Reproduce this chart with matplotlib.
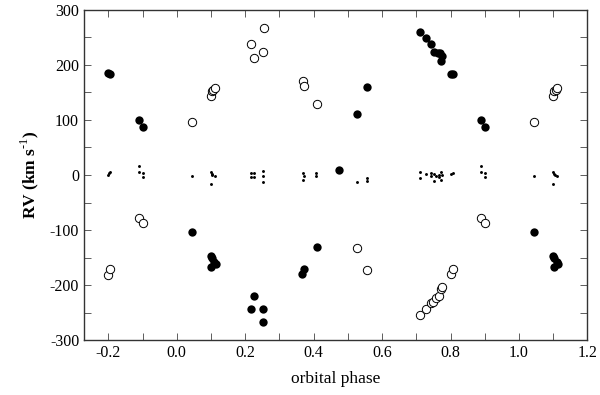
import matplotlib
matplotlib.use('Agg')
import matplotlib.pyplot as plt
from matplotlib.ticker import MultipleLocator

plt.rcParams['font.family'] = ['Liberation Serif', 'DejaVu Serif']
plt.rcParams['axes.unicode_minus'] = False
plt.rcParams['mathtext.fontset'] = 'custom'
plt.rcParams['mathtext.rm'] = 'Liberation Serif'
plt.rcParams['mathtext.bf'] = 'Liberation Serif:bold'

# primary star (filled circles)
p1_phase = [-0.200, -0.195, -0.110, -0.100, 0.044, 0.099, 0.102, 0.109, 0.115, 0.100,
            0.217, 0.226, 0.253, 0.253, 0.367, 0.372, 0.409, 0.475, 0.527, 0.556,
            0.712, 0.728, 0.742, 0.751, 0.762, 0.769, 0.775, 0.773, 0.801, 0.806,
            0.890, 0.901, 1.044, 1.100, 1.103, 1.110, 1.114, 1.102]
p1_rv = [185, 183, 100, 88, -103, -147, -151, -158, -162, -167,
         -244, -220, -244, -268, -180, -170, -131, 9, 110, 159,
         260, 248, 238, 224, 222, 221, 217, 207, 184, 183,
         100, 88, -103, -147, -151, -158, -162, -167]

# secondary star (open circles)
p2_phase = [-0.200, -0.195, -0.109, -0.100, 0.044, 0.100, 0.103, 0.107, 0.112,
            0.217, 0.226, 0.253, 0.255, 0.368, 0.372, 0.409, 0.528, 0.556,
            0.712, 0.728, 0.742, 0.749, 0.759, 0.766, 0.772, 0.775, 0.801, 0.806,
            0.890, 0.901, 1.044, 1.100, 1.103, 1.107, 1.112]
p2_rv = [-181, -170, -78, -87, 97, 144, 152, 155, 158,
         238, 213, 224, 267, 171, 162, 129, -133, -172,
         -255, -243, -233, -231, -224, -219, -208, -204, -180, -170,
         -78, -87, 97, 144, 152, 155, 158]

# small dots around zero
p3_phase = [-0.200, -0.198, -0.194, -0.110, -0.110, -0.100, -0.100, 0.044,
            0.100, 0.102, 0.104, 0.112, 0.100, 0.217, 0.217, 0.226, 0.226,
            0.253, 0.253, 0.253, 0.368, 0.372, 0.368, 0.407, 0.407, 0.527, 0.556, 0.556,
            0.712, 0.712, 0.728, 0.742, 0.743, 0.751, 0.751, 0.759, 0.766, 0.766,
            0.773, 0.773, 0.775, 0.801, 0.806,
            0.890, 0.890, 0.901, 0.901, 1.044, 1.100, 1.102, 1.104, 1.112, 1.100]
p3_rv = [0, 3, 5, 16, 5, 3, -4, -1,
         6, 2, 0, -1, -16, 3, -4, 3, -4,
         8, -2, -13, 4, -1, -9, 3, -2, -13, -6, -11,
         5, -5, 2, 4, -1, 2, -11, -1, 0, -4,
         5, -9, 0, 1, 4,
         16, 5, 3, -4, -1, 6, 2, 0, -1, -16]

fig = plt.figure(figsize=(6.0, 3.95), dpi=100)
ax = fig.add_axes([0.14, 0.139, 0.839, 0.836])

ax.plot(p3_phase, p3_rv, 'o', color='black', markersize=2.1, markeredgewidth=0)
ax.plot(p2_phase, p2_rv, 'o', markerfacecolor='white', markeredgecolor='black',
        markersize=6.0, markeredgewidth=0.7)
ax.plot(p1_phase, p1_rv, 'o', color='black', markersize=6, markeredgewidth=0)

ax.set_xlim(-0.271, 1.2)
ax.set_ylim(-300, 300)
ax.xaxis.set_major_locator(MultipleLocator(0.2))
ax.xaxis.set_minor_locator(MultipleLocator(0.1))
ax.yaxis.set_major_locator(MultipleLocator(100))
ax.yaxis.set_minor_locator(MultipleLocator(50))
ax.tick_params(which='both', direction='in', top=True, right=True, labelsize=11.5,
               width=0.6, colors='#444444', labelcolor='black')
ax.tick_params(which='major', length=5)
ax.tick_params(which='minor', length=5)
ax.xaxis.set_major_formatter(plt.FuncFormatter(lambda v, p: '%.1f' % v))
for s in ax.spines.values():
    s.set_linewidth(1.0)
    s.set_color('#333333')

ax.set_xlabel('orbital phase', fontsize=12.5, labelpad=7)
ax.set_ylabel('RV (km s$^{\\text{-1}}$)', fontsize=12.5, fontweight='bold', labelpad=6)

plt.savefig('out.png', dpi=100)
